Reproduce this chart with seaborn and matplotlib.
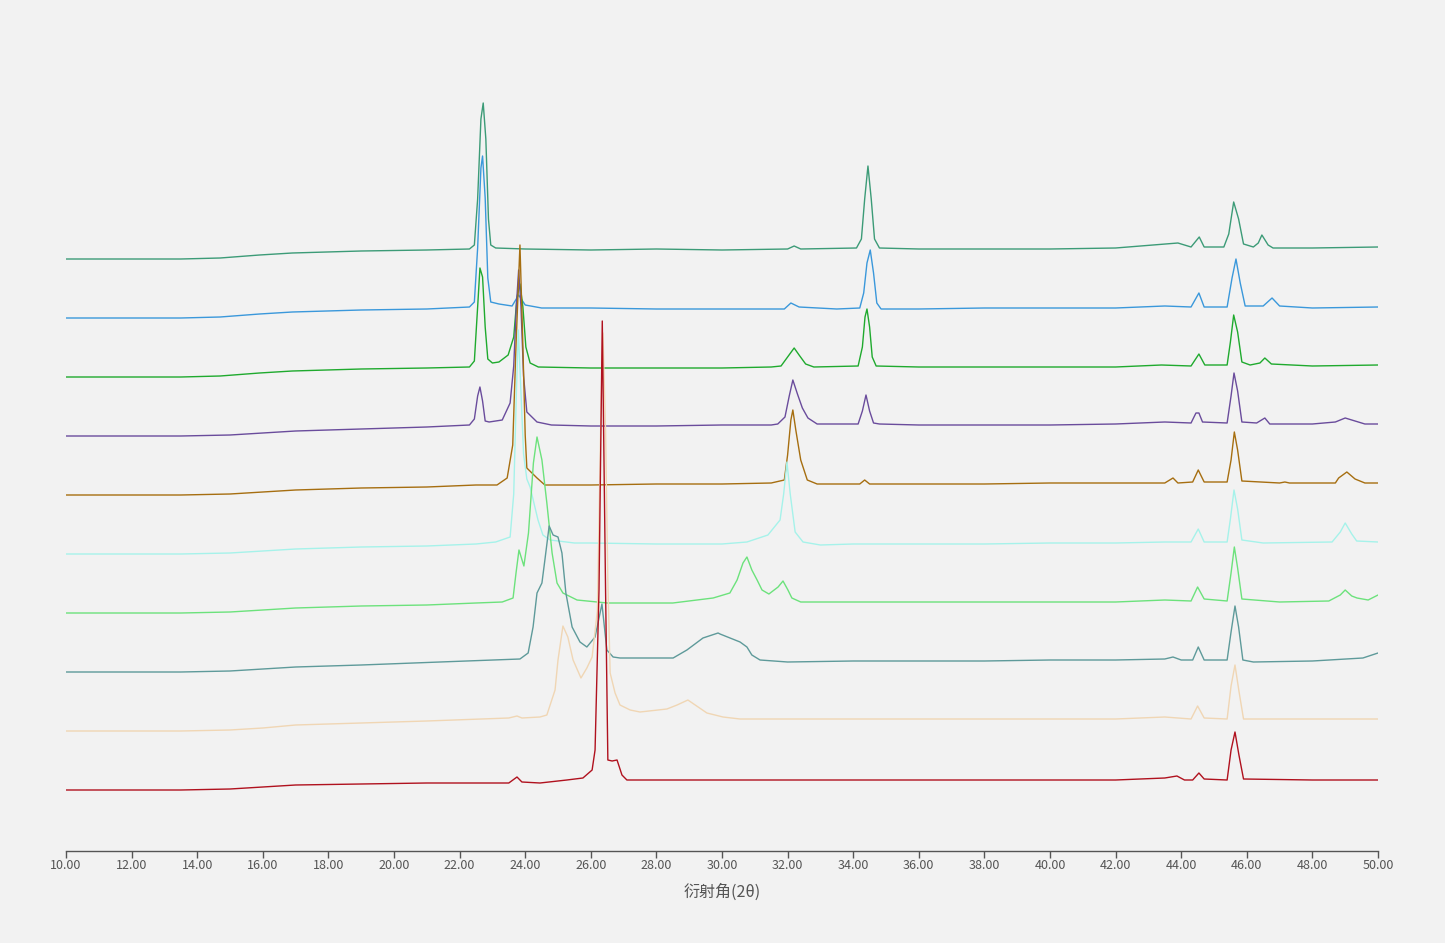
import matplotlib
matplotlib.use("Agg")
import matplotlib.pyplot as plt
import seaborn as sns
import pandas as pd

# ---- data: 10 stacked XRD patterns (2θ knots, relative intensity) ----
series_names = ["样品1", "样品2", "样品3", "样品4", "样品5",
                "样品6", "样品7", "样品8", "样品9", "样品10"]
series_colors = ["#3c9b77", "#3a98db", "#1faa2e", "#6a4c9c", "#a66e10",
                 "#a6f2ea", "#6ce27c", "#5e9a9a", "#f0d6b4", "#b0111e"]
stack_offsets = [592, 533, 474, 415, 356, 297, 238, 179, 120, 61]

s1_x = [10, 13.5, 14.7, 15.9, 16.9, 19.0, 21.0, 22.3, 22.45, 22.55, 22.65, 22.72, 22.8, 22.88, 22.95, 23.1,
        24.0, 26.0, 28.0, 30.0, 32.0, 32.2, 32.4, 34.1, 34.25, 34.35, 34.45, 34.55, 34.65, 34.8,
        36.0, 38.0, 40.0, 42.0, 43.9, 44.3, 44.45, 44.55, 44.7, 45.3, 45.45, 45.6, 45.75, 45.9,
        46.2, 46.35, 46.46, 46.65, 46.8, 48.0, 50.0]
s1_y = [0, 0, 1, 4, 6, 8, 9, 10, 14, 60, 140, 156, 120, 40, 14, 11,
        10, 9, 10, 9, 10, 13, 10, 11, 20, 60, 93, 60, 20, 11,
        10, 10, 10, 11, 16, 12, 18, 22, 12, 12, 25, 57, 40, 15,
        12, 16, 24, 14, 11, 11, 12]

s2_x = [10, 13.5, 14.7, 15.9, 16.9, 19.0, 21.0, 22.3, 22.45, 22.55, 22.65, 22.7, 22.78, 22.86, 22.95,
        23.2, 23.6, 23.8, 24.0, 24.5, 26.0, 28.0, 30.0, 31.9, 32.1, 32.35, 33.5, 34.2, 34.32, 34.42,
        34.52, 34.62, 34.72, 34.85, 36.0, 38.0, 40.0, 42.0, 43.5, 44.3, 44.54, 44.7, 45.4, 45.55,
        45.67, 45.8, 45.95, 46.5, 46.77, 47.0, 48.0, 50.0]
s2_y = [0, 0, 1, 4, 6, 8, 9, 11, 16, 70, 150, 162, 120, 40, 16,
        14, 12, 23, 13, 10, 10, 9, 9, 9, 15, 11, 9, 10, 25, 55,
        68, 45, 15, 9, 9, 10, 10, 10, 12, 11, 25, 11, 11, 40,
        59, 35, 12, 12, 20, 12, 10, 11]

s3_x = [10, 13.5, 14.7, 15.9, 16.9, 19.0, 21.0, 22.3, 22.45, 22.55, 22.62, 22.7, 22.78, 22.86, 23.0,
        23.2, 23.48, 23.65, 23.75, 23.84, 23.93, 24.02, 24.15, 24.4, 26.0, 28.0, 30.0, 31.5,
        31.8, 32.0, 32.2, 32.35, 32.55, 32.8, 34.15, 34.28, 34.36, 34.42, 34.5, 34.58, 34.7,
        36.0, 38.0, 40.0, 42.0, 43.4, 44.3, 44.54, 44.72, 45.4, 45.5, 45.6, 45.72, 45.85, 46.1,
        46.4, 46.55, 46.75, 48.0, 50.0]
s3_y = [0, 0, 1, 4, 6, 8, 9, 10, 16, 70, 109, 100, 50, 18, 14,
        15, 22, 40, 80, 93, 70, 30, 14, 10, 9, 9, 9, 10,
        11, 20, 29, 22, 13, 10, 11, 30, 60, 68, 50, 20, 11,
        10, 10, 10, 10, 12, 11, 23, 12, 12, 35, 62, 45, 15, 12,
        14, 19, 13, 11, 12]

s4_x = [10, 13.5, 15.0, 16.0, 17.0, 19.0, 21.0, 22.3, 22.45, 22.55, 22.62, 22.7, 22.78, 22.9,
        23.3, 23.54, 23.65, 23.73, 23.8, 23.87, 23.95, 24.05, 24.36, 24.8, 26.0, 28.0, 30.0, 31.5,
        31.7, 31.92, 32.05, 32.16, 32.3, 32.45, 32.62, 32.9, 34.15, 34.28, 34.39, 34.5, 34.62, 34.8,
        36.0, 38.0, 40.0, 42.0, 43.5, 44.3, 44.45, 44.54, 44.65, 45.4, 45.52, 45.61, 45.72, 45.85,
        46.3, 46.55, 46.7, 48.0, 48.7, 49.0, 49.3, 49.6, 50.0]
s4_y = [0, 0, 1, 3, 5, 7, 9, 11, 17, 40, 49, 35, 15, 14,
        16, 33, 70, 130, 166, 130, 60, 24, 14, 11, 10, 10, 11, 11,
        12, 19, 40, 56, 42, 28, 18, 12, 12, 25, 41, 25, 13, 12,
        11, 11, 11, 12, 14, 13, 23, 23, 14, 13, 40, 63, 45, 14,
        13, 18, 12, 12, 14, 18, 15, 12, 12]

s5_x = [10, 13.5, 15.0, 16.0, 17.0, 19.0, 21.0, 22.5, 23.14, 23.45, 23.62, 23.72, 23.84, 23.92, 24.0,
        24.05, 24.36, 24.6, 26.0, 28.0, 30.0, 31.5, 31.9, 32.0, 32.1, 32.16, 32.25, 32.4, 32.6, 32.9,
        34.2, 34.35, 34.5, 36.0, 38.0, 40.0, 42.0, 43.5, 43.75, 43.9, 44.35, 44.52, 44.7, 45.4,
        45.52, 45.62, 45.72, 45.85, 47.0, 47.16, 47.3, 48.7, 48.8, 49.05, 49.3, 49.6, 50.0]
s5_y = [0, 0, 1, 3, 5, 7, 8, 10, 10, 17, 50, 150, 250, 160, 60,
        27, 17, 10, 10, 11, 11, 12, 15, 40, 75, 85, 65, 35, 15, 11,
        11, 15, 11, 11, 11, 12, 12, 12, 17, 12, 13, 25, 13, 13,
        35, 63, 45, 14, 12, 13, 12, 12, 17, 23, 16, 12, 12]

s6_x = [10, 13.5, 15.0, 16.0, 17.0, 19.0, 21.0, 22.5, 23.1, 23.54, 23.65, 23.73, 23.79, 23.86, 23.95,
        24.05, 24.15, 24.39, 24.54, 24.76, 25.5, 26.0, 28.0, 30.0, 30.76, 31.4, 31.77, 31.88, 31.98,
        32.08, 32.23, 32.47, 33.0, 34.0, 36.0, 38.0, 40.0, 42.0, 43.5, 44.3, 44.52, 44.7, 45.4,
        45.5, 45.61, 45.72, 45.85, 46.5, 48.6, 48.85, 49.0, 49.2, 49.35, 50.0]
s6_y = [0, 0, 1, 3, 5, 7, 8, 10, 12, 17, 60, 160, 224, 170, 100,
        75, 67, 34, 19, 14, 11, 11, 10, 10, 12, 19, 34, 60, 92,
        60, 22, 12, 9, 10, 10, 10, 11, 11, 12, 12, 25, 12, 12,
        35, 64, 45, 14, 11, 12, 22, 31, 20, 13, 12]

s7_x = [10, 13.5, 15.0, 16.0, 17.0, 19.0, 21.0, 22.5, 23.3, 23.63, 23.72, 23.81, 23.96, 24.1, 24.25,
        24.36, 24.51, 24.66, 24.82, 24.97, 25.15, 25.58, 26.5, 28.5, 29.73, 30.24, 30.46, 30.64,
        30.76, 30.91, 31.07, 31.22, 31.43, 31.71, 31.86, 32.01, 32.13, 32.4, 34.0, 36.0, 38.0,
        40.0, 42.0, 43.5, 44.3, 44.5, 44.7, 45.4, 45.52, 45.62, 45.72, 45.85, 47.0, 48.5, 48.85,
        49.0, 49.2, 49.36, 49.7, 50.0]
s7_y = [0, 0, 1, 3, 5, 7, 8, 10, 11, 15, 40, 63, 47, 80, 150,
        176, 153, 110, 60, 30, 20, 13, 10, 10, 15, 20, 33, 50,
        56, 43, 33, 23, 19, 26, 32, 23, 15, 11, 11, 11, 11,
        11, 11, 13, 12, 26, 14, 12, 40, 66, 45, 14, 11, 12, 18,
        23, 17, 15, 13, 18]

s8_x = [10, 13.5, 15.0, 16.0, 17.0, 19.0, 21.4, 23.84, 24.09, 24.24, 24.36, 24.51, 24.6, 24.73, 24.85,
        25.0, 25.12, 25.24, 25.43, 25.67, 25.88, 26.13, 26.34, 26.49, 26.68, 26.89, 28.51, 28.93,
        29.42, 29.88, 29.94, 30.55, 30.76, 30.91, 31.16, 32.0, 34.0, 36.0, 38.0, 40.0, 42.0, 43.5,
        43.75, 44.0, 44.35, 44.52, 44.7, 45.4, 45.52, 45.64, 45.75, 45.88, 46.2, 48.0, 49.54, 50.0]
s8_y = [0, 0, 1, 3, 5, 7, 10, 13, 19, 45, 79, 89, 112, 146, 137,
        135, 119, 79, 45, 30, 25, 35, 68, 22, 15, 14, 14, 22,
        34, 39, 38, 30, 25, 17, 12, 10, 11, 11, 11, 12, 12, 13,
        15, 12, 12, 25, 12, 12, 40, 66, 45, 12, 10, 11, 14, 19]

s9_x = [10, 13.5, 15.0, 16.0, 17.0, 19.0, 21.0, 23.5, 23.75, 23.9, 24.45, 24.66, 24.91, 25.0, 25.15,
        25.3, 25.46, 25.7, 25.88, 26.04, 26.2, 26.3, 26.37, 26.45, 26.52, 26.59, 26.74, 26.89,
        27.2, 27.5, 28.32, 28.63, 28.96, 29.54, 30.03, 30.55, 32.0, 34.0, 36.0, 38.0, 40.0, 42.0,
        43.5, 44.3, 44.5, 44.7, 45.4, 45.52, 45.64, 45.76, 45.9, 48.0, 50.0]
s9_y = [0, 0, 1, 3, 6, 8, 10, 13, 15, 13, 14, 16, 41, 71, 105,
        94, 71, 53, 63, 74, 120, 300, 398, 300, 150, 58, 38, 26,
        21, 19, 22, 26, 31, 18, 14, 12, 12, 12, 12, 12, 12, 12,
        14, 12, 25, 13, 12, 45, 66, 40, 12, 12, 12]

s10_x = [10, 13.5, 15.0, 16.0, 17.0, 19.0, 21.0, 23.5, 23.75, 23.9, 24.45, 25.27, 25.76, 26.04, 26.13,
         26.25, 26.35, 26.45, 26.52, 26.65, 26.8, 26.95, 27.1, 30.0, 34.0, 38.0, 42.0, 43.5, 43.87,
         44.1, 44.35, 44.54, 44.7, 45.4, 45.52, 45.64, 45.76, 45.9, 48.0, 50.0]
s10_y = [0, 0, 1, 3, 5, 6, 7, 7, 13, 8, 7, 10, 12, 20, 40,
         200, 469, 200, 30, 29, 30, 15, 10, 10, 10, 10, 10, 12, 14,
         10, 10, 17, 11, 10, 40, 58, 35, 11, 10, 10]

xs = [s1_x, s2_x, s3_x, s4_x, s5_x, s6_x, s7_x, s8_x, s9_x, s10_x]
ys = [s1_y, s2_y, s3_y, s4_y, s5_y, s6_y, s7_y, s8_y, s9_y, s10_y]

x_ticks = [10, 12, 14, 16, 18, 20, 22, 24, 26, 28, 30, 32, 34, 36, 38, 40, 42, 44, 46, 48, 50]
x_label = "衍射角(2θ)"

# ---- build long table ----
rows = []
for name, x, y, off in zip(series_names, xs, ys, stack_offsets):
    for i, (xv, yv) in enumerate(zip(x, y)):
        rows.append({"series": name, "idx": i, "two_theta": xv, "value": yv + off})
df = pd.DataFrame(rows)

sns.set_theme(style="white")
plt.rcParams["font.family"] = ["Noto Sans CJK SC", "DejaVu Sans"]

bg = "#f2f2f2"
fig = plt.figure(figsize=(14.45, 9.43), dpi=100, facecolor=bg)
ax = fig.add_axes([66 / 1445, 92 / 943, 1312 / 1445, 791 / 943])
ax.set_facecolor(bg)

sns.lineplot(data=df, x="two_theta", y="value", hue="series",
             hue_order=series_names, palette=dict(zip(series_names, series_colors)),
             sort=False, estimator=None, units="series", linewidth=1.0,
             legend=False, ax=ax)

ax.set_xlim(10, 50)
ax.set_ylim(0, 791)
ax.set_xticks(x_ticks)
ax.set_xticklabels([f"{t:.2f}" for t in x_ticks], fontsize=9, color="#555555")
ax.set_yticks([])
ax.set_ylabel("")
ax.set_xlabel(x_label, fontsize=11.5, color="#555555", style="italic", labelpad=8)
for s in ["top", "right", "left"]:
    ax.spines[s].set_visible(False)
ax.spines["bottom"].set_color("#555555")
ax.spines["bottom"].set_linewidth(1.0)
ax.tick_params(axis="x", direction="out", length=5, width=1, color="#555555", pad=1, bottom=True)
ax.grid(False)

fig.savefig("out.png", dpi=100, facecolor=bg)
